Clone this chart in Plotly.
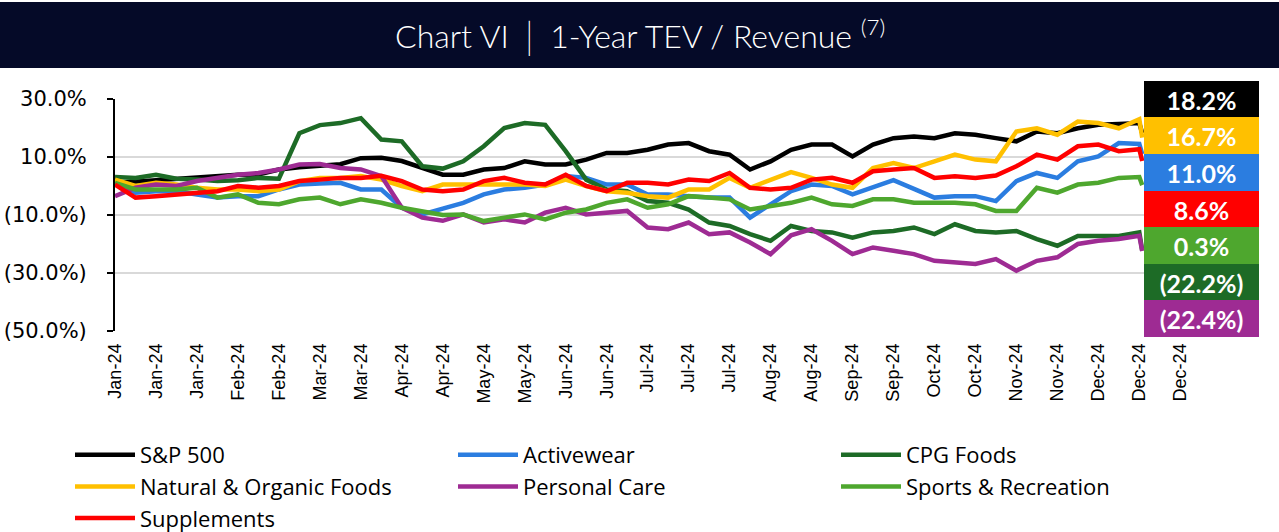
import pandas as pd
import plotly.graph_objects as go

# ---- data -------------------------------------------------------------
dates = list(pd.date_range("2024-01-01", periods=51, freq="7D")) + [pd.Timestamp("2024-12-17")]

sp500 = [1.0, 1.5, 2.0, 2.5, 2.8, 3.5, 3.9, 4.0, 5.7, 6.5, 7.0, 7.5, 9.6, 9.7, 8.6, 6.2, 3.9,
         3.9, 5.7, 6.2, 8.5, 7.4, 7.4, 9.1, 11.4, 11.4, 12.5, 14.3, 14.8, 12.0, 10.8, 5.7, 8.5,
         12.5, 14.3, 14.3, 10.2, 14.3, 16.5, 17.1, 16.5, 18.2, 17.7, 16.5, 15.4, 18.8, 18.2,
         19.9, 21.1, 21.4, 21.7, 18.2]
activewear = [1.1, -2.3, -1.8, -1.8, -2.9, -4.0, -3.5, -3.5, -1.2, 0.5, 0.9, 1.1, -1.2, -1.2,
              -7.5, -9.8, -7.8, -5.8, -2.9, -1.2, -0.6, 0.5, 3.4, 2.8, 0.5, 0.5, -2.9, -2.9,
              -3.5, -4.0, -4.0, -10.9, -6.3, -1.8, 0.5, 0.0, -2.9, -0.6, 2.0, -1.0, -4.0, -3.5,
              -3.5, -5.2, 1.7, 4.5, 2.8, 8.5, 10.2, 14.8, 14.5, 11.0]
cpg_foods = [3.1, 2.8, 3.9, 2.5, 2.2, 1.7, 2.0, 2.8, 2.5, 18.2, 21.0, 21.7, 23.4, 16.0, 15.4,
             6.8, 6.0, 8.5, 13.7, 20.0, 21.7, 21.1, 12.0, 2.2, -1.2, -1.8, -5.2, -5.8, -8.1,
             -12.6, -13.8, -16.6, -18.9, -13.8, -15.5, -16.0, -17.8, -16.0, -15.5, -14.3,
             -16.6, -13.2, -15.5, -16.0, -15.5, -18.3, -20.6, -17.2, -17.2, -17.2, -16.0, -22.2]
natural_organic = [2.2, 0.0, 1.1, 0.5, -0.6, -1.2, -1.2, -1.8, -1.2, 1.7, 2.8, 2.8, 3.4, 2.2,
                   0.0, -1.8, 0.5, 0.5, 0.5, 0.5, 0.5, 0.0, 2.2, 0.0, -1.8, -2.3, -3.5, -4.0,
                   -1.2, -1.2, 2.8, -0.6, 2.2, 4.8, 2.8, 0.5, -0.6, 6.2, 7.9, 6.2, 8.5, 10.8,
                   9.1, 8.5, 18.8, 19.9, 17.7, 22.2, 21.7, 19.9, 23.0, 16.7]
personal_care = [-3.5, -0.6, 0.5, 0.0, 1.7, 2.8, 3.9, 4.5, 5.7, 7.4, 7.6, 6.2, 5.7, 3.4, -7.5,
                 -10.9, -12.0, -9.8, -12.6, -11.5, -12.6, -9.2, -7.5, -9.8, -9.2, -8.6, -14.3,
                 -14.9, -12.6, -16.6, -16.0, -19.5, -23.5, -17.0, -14.9, -18.9, -23.5, -21.2,
                 -22.3, -23.5, -25.8, -26.3, -26.9, -25.2, -29.2, -25.8, -24.6, -20.0, -18.9,
                 -18.3, -17.2, -22.4]
sports_rec = [1.1, -1.2, -1.2, -1.2, -0.6, -4.0, -2.9, -5.8, -6.3, -4.6, -4.0, -6.3, -4.6, -5.8,
              -7.5, -8.6, -10.0, -9.8, -12.1, -10.9, -9.8, -11.5, -9.2, -8.1, -5.8, -4.6, -7.5,
              -6.3, -3.5, -4.0, -4.6, -8.1, -6.9, -5.8, -4.0, -6.3, -6.9, -4.6, -4.6, -5.8,
              -5.8, -5.8, -6.3, -8.6, -8.6, -0.6, -2.3, 0.5, 1.1, 2.8, 3.1, 0.3]
supplements = [0.5, -4.0, -3.5, -2.9, -2.3, -1.8, 0.0, -0.6, 0.0, 1.7, 2.2, 2.8, 2.8, 3.5, 1.7,
               -1.2, -1.8, -1.2, 1.7, 2.8, 1.1, 0.5, 3.9, 0.0, -1.8, 1.1, 1.1, 0.5, 2.2, 1.7,
               4.5, -0.6, -1.2, -0.6, 2.2, 2.8, 1.1, 5.1, 5.7, 6.2, 2.8, 3.4, 2.8, 3.6, 6.8,
               10.8, 9.1, 13.7, 14.3, 12.0, 12.7, 8.6]

series_names = ["S&P 500", "Activewear", "CPG Foods", "Natural & Organic Foods",
                "Personal Care", "Sports & Recreation", "Supplements"]
series_values = [sp500, activewear, cpg_foods, natural_organic, personal_care, sports_rec, supplements]
series_colors = ["#000000", "#2B7DE0", "#1D6B26", "#FFC000", "#9E2B93", "#4EA72E", "#FF0000"]

# end-value boxes (top to bottom)
label_texts = ["18.2%", "16.7%", "11.0%", "8.6%", "0.3%", "(22.2%)", "(22.4%)"]
label_colors = ["#000000", "#FFC000", "#2B7DE0", "#FF0000", "#4EA72E", "#1D6B26", "#9E2B93"]

y_tickvals = [30, 10, -10, -30, -50]
y_ticktext = ["30.0%", "10.0%", "(10.0%)", "(30.0%)", "(50.0%)"]

# ---- figure -----------------------------------------------------------
W, H = 1279, 532
L, R, T, B = 115, 98, 99, 201
pw, ph = W - L - R, H - T - B


def px_x(px):
    return (px - L) / pw


def px_y(py):
    return (H - B - py) / ph


fig = go.Figure()
for name, vals, col in zip(series_names, series_values, series_colors):
    fig.add_trace(go.Scatter(x=dates, y=vals, name=name, mode="lines",
                             line=dict(color=col, width=4.5)))

shapes = [dict(type="rect", xref="paper", yref="paper", x0=px_x(-5), x1=px_x(W + 5),
               y0=px_y(68), y1=px_y(2), fillcolor="#050A28", line=dict(width=0), layer="above")]

annotations = [dict(xref="paper", yref="paper", x=px_x(640), y=px_y(35),
                    text="Chart VI │ 1-Year TEV / Revenue <sup>(7)</sup>", showarrow=False,
                    font=dict(family="Lato", size=32, color="white", weight=300),
                    xanchor="center", yanchor="middle")]

box_top, box_h = 81, (337 - 81) / 7
for i, (t, c) in enumerate(zip(label_texts, label_colors)):
    annotations.append(dict(xref="paper", yref="paper", x=px_x(1144), y=px_y(box_top + box_h * (i + 0.5)),
                            xanchor="left", yanchor="middle", text="<b>%s</b>" % t, showarrow=False,
                            width=115, height=box_h + 0.6, bgcolor=c, borderpad=0, borderwidth=0,
                            align="center", valign="middle",
                            font=dict(family="Lato", size=25, color="white")))

fig.update_layout(
    width=W, height=H, margin=dict(l=L, r=R, t=T, b=B, autoexpand=False),
    paper_bgcolor="white", plot_bgcolor="white",
    shapes=shapes, annotations=annotations,
    showlegend=True,
    legend=dict(orientation="h", x=px_x(70), y=px_y(434), xanchor="left", yanchor="top",
                font=dict(family="Open Sans", size=22, color="black"),
                entrywidth=308, entrywidthmode="pixels", itemwidth=60,
                tracegroupgap=0, bgcolor="rgba(0,0,0,0)"),
)
fig.update_yaxes(range=[-50, 30], tickvals=y_tickvals, ticktext=y_ticktext,
                 showline=True, linecolor="black", linewidth=2, ticks="outside", ticklen=6,
                 tickcolor="black", tickwidth=2, showgrid=True, gridcolor="#D9D9D9", gridwidth=2,
                 zeroline=False, ticklabelstandoff=16,
                 tickfont=dict(family="DejaVu Sans", size=21, color="black"))
fig.update_xaxes(type="date", range=["2024-01-01", "2024-12-30 06:00"], tick0="2024-01-01",
                 dtick=14 * 86400000, tickformat="%b-%y", tickangle=-90, showgrid=False,
                 showline=False, ticks="", zeroline=False, ticklabelstandoff=8,
                 tickfont=dict(family="Liberation Sans", size=18, color="black"))

fig.write_html("out.html", post_script="document.body.style.margin='0';",
               config={"displayModeBar": False})
